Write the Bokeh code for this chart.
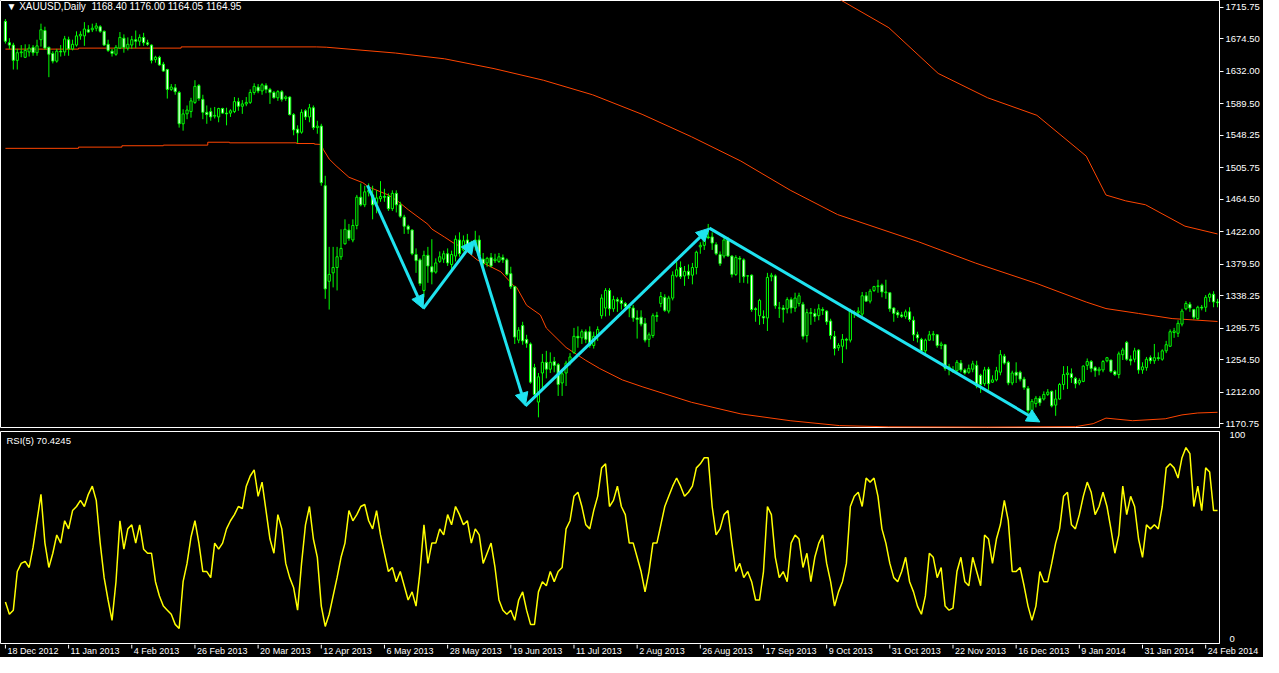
from bokeh.plotting import figure
from bokeh.models import (ColumnDataSource, FixedTicker, NumeralTickFormatter, Arrow,
                          NormalHead, Label, Range1d)
from bokeh.layouts import column
from bokeh.core.properties import value
from bokeh.embed import file_html
from bokeh.resources import INLINE

# ---------------- data ----------------
opens = [1697,1669,1666,1646,1656,1650,1657,1663,1656,1673,1685,1663,1655,1645,1658,1657,1673,1661,1666,1678,
         1678,1686,1686,1688,1690,1684,1667,1658,1654,1662,1675,1662,1666,1673,1671,1676,1669,1666,1647,1650,
         1641,1634,1608,1610,1604,1563,1576,1579,1591,1613,1595,1578,1579,1573,1572,1583,1577,1577,1579,1592,
         1586,1589,1591,1604,1611,1606,1613,1608,1604,1597,1605,1596,1598,1575,1556,1552,1580,1572,1584,1558,
         1560,1482,1357,1368,1375,1389,1406,1424,1411,1430,1467,1457,1474,1470,1459,1465,1468,1468,1452,1472,
         1457,1441,1429,1424,1392,1385,1345,1391,1376,1369,1383,1386,1393,1379,1390,1411,1398,1411,1400,1403,
         1411,1386,1381,1388,1384,1383,1388,1385,1367,1350,1280,1299,1281,1275,1244,1199,1237,1251,1242,1252,
         1248,1224,1237,1250,1264,1285,1283,1291,1291,1273,1285,1312,1322,1345,1321,1333,1332,1328,1323,1322,
         1309,1310,1302,1281,1286,1312,1328,1336,1318,1335,1364,1375,1364,1370,1365,1375,1402,1404,1415,1415,
         1405,1392,1390,1411,1390,1366,1387,1385,1364,1365,1321,1312,1311,1309,1363,1364,1322,1322,1321,1333,
         1322,1328,1327,1286,1316,1315,1312,1320,1318,1305,1285,1270,1272,1281,1280,1316,1316,1314,1338,1331,
         1345,1350,1352,1342,1342,1322,1316,1313,1311,1317,1306,1287,1281,1266,1280,1287,1287,1273,1274,1243,
         1241,1240,1250,1241,1238,1242,1247,1234,1223,1242,1225,1228,1238,1259,1251,1224,1238,1238,1229,1217,
         1188,1197,1204,1203,1209,1213,1195,1203,1222,1235,1236,1230,1224,1226,1247,1252,1244,1240,1241,1253,
         1254,1239,1235,1261,1277,1255,1255,1267,1241,1244,1257,1253,1257,1255,1266,1272,1290,1289,1301,1321,
         1327,1320,1308,1323,1323,1336,1340,1330]
highs = [1700,1675,1669,1661,1666,1667,1667,1666,1673,1694,1690,1664,1658,1661,1666,1678,1677,1673,1684,1684,
         1696,1692,1694,1695,1692,1685,1673,1661,1666,1683,1680,1676,1678,1685,1680,1682,1673,1667,1652,1652,
         1644,1635,1615,1615,1606,1582,1587,1597,1620,1615,1601,1587,1584,1585,1584,1584,1584,1582,1598,1597,
         1594,1598,1608,1616,1615,1616,1616,1610,1606,1607,1607,1600,1599,1577,1561,1582,1582,1589,1587,1567,
         1563,1495,1402,1402,1402,1425,1438,1432,1438,1470,1485,1482,1485,1482,1476,1488,1478,1472,1476,1476,
         1461,1444,1431,1425,1400,1387,1397,1402,1412,1387,1396,1397,1400,1397,1417,1421,1417,1419,1410,1423,
         1417,1394,1389,1394,1393,1394,1392,1387,1376,1351,1297,1304,1287,1277,1249,1237,1262,1266,1264,1258,
         1250,1240,1253,1263,1296,1298,1294,1294,1298,1291,1298,1340,1348,1348,1338,1336,1336,1330,1327,1326,
         1319,1319,1309,1290,1315,1317,1343,1340,1338,1370,1383,1383,1377,1379,1381,1397,1408,1421,1432,1421,
         1408,1396,1415,1415,1391,1391,1390,1387,1365,1366,1323,1334,1319,1368,1368,1366,1330,1326,1336,1336,
         1342,1342,1330,1321,1322,1321,1327,1323,1319,1308,1292,1276,1288,1283,1321,1319,1323,1343,1343,1347,
         1351,1359,1354,1359,1342,1323,1319,1317,1320,1323,1311,1291,1283,1282,1292,1292,1288,1278,1275,1249,
         1246,1254,1254,1243,1248,1253,1253,1236,1245,1245,1234,1245,1267,1262,1253,1240,1251,1240,1232,1220,
         1203,1207,1207,1213,1216,1214,1215,1224,1246,1246,1243,1232,1230,1247,1256,1254,1246,1245,1254,1258,
         1254,1241,1265,1270,1279,1260,1270,1268,1251,1258,1260,1275,1264,1268,1279,1294,1296,1306,1321,1331,
         1330,1321,1325,1326,1339,1342,1344,1334]
lows = [1668,1661,1634,1634,1650,1649,1651,1652,1652,1664,1660,1624,1642,1643,1651,1652,1652,1659,1664,1673,
        1665,1682,1683,1684,1682,1665,1657,1651,1652,1661,1656,1659,1661,1662,1665,1665,1665,1642,1643,1639,
        1631,1596,1606,1601,1558,1554,1569,1571,1589,1593,1569,1563,1567,1570,1565,1576,1561,1572,1577,1580,
        1576,1586,1589,1601,1603,1601,1603,1589,1596,1593,1592,1593,1574,1548,1538,1550,1568,1565,1555,1550,
        1482,1334,1320,1349,1345,1385,1405,1410,1408,1425,1455,1454,1468,1438,1446,1461,1461,1449,1449,1447,
        1440,1419,1419,1391,1368,1351,1336,1355,1353,1367,1381,1381,1377,1372,1383,1389,1396,1398,1397,1397,
        1388,1376,1376,1375,1381,1381,1381,1364,1347,1275,1276,1274,1270,1223,1205,1179,1215,1230,1237,1238,
        1207,1207,1220,1247,1262,1270,1275,1276,1270,1269,1279,1308,1311,1312,1317,1317,1320,1320,1310,1304,
        1282,1298,1277,1271,1283,1304,1323,1317,1315,1332,1362,1360,1351,1360,1353,1366,1393,1398,1412,1398,
        1391,1377,1387,1389,1362,1364,1355,1355,1354,1317,1304,1300,1301,1292,1357,1321,1309,1303,1315,1315,
        1317,1324,1281,1277,1300,1304,1306,1313,1300,1281,1260,1266,1250,1268,1277,1309,1310,1311,1330,1328,
        1343,1342,1336,1334,1317,1304,1309,1309,1308,1304,1279,1277,1264,1262,1279,1279,1270,1268,1240,1234,
        1237,1238,1238,1235,1236,1238,1217,1211,1220,1215,1224,1226,1234,1248,1221,1221,1224,1226,1215,1184,
        1185,1192,1194,1201,1207,1192,1181,1202,1215,1216,1224,1217,1221,1225,1241,1238,1232,1234,1238,1251,
        1237,1233,1230,1254,1253,1247,1251,1236,1236,1240,1249,1249,1253,1253,1263,1271,1283,1284,1298,1319,
        1317,1307,1307,1319,1317,1330,1323,1323]
closes = [1671,1666,1646,1656,1657,1659,1662,1656,1665,1686,1662,1654,1645,1658,1657,1674,1661,1667,1678,1680,
          1687,1683,1688,1691,1684,1666,1659,1655,1663,1676,1663,1667,1673,1671,1676,1669,1667,1646,1650,1640,
          1632,1608,1611,1605,1563,1576,1581,1593,1612,1596,1578,1575,1572,1574,1583,1577,1576,1580,1592,1586,
          1589,1591,1604,1612,1606,1614,1608,1604,1597,1605,1595,1598,1575,1555,1551,1578,1572,1584,1558,1560,
          1486,1347,1366,1375,1389,1400,1425,1413,1430,1467,1457,1474,1476,1457,1466,1468,1467,1452,1472,1457,
          1442,1429,1425,1393,1384,1354,1391,1377,1369,1381,1389,1393,1381,1392,1412,1393,1410,1400,1402,1411,
          1390,1380,1387,1377,1386,1389,1385,1366,1350,1284,1293,1279,1276,1225,1209,1232,1251,1242,1251,1247,
          1222,1236,1250,1258,1285,1283,1291,1281,1273,1285,1294,1335,1345,1321,1333,1331,1328,1324,1322,1309,
          1307,1301,1280,1287,1312,1311,1337,1319,1335,1365,1372,1363,1370,1365,1375,1395,1404,1415,1414,1407,
          1393,1380,1411,1390,1366,1388,1386,1363,1364,1320,1320,1332,1309,1362,1365,1325,1322,1320,1333,1322,
          1335,1338,1285,1316,1315,1311,1321,1319,1304,1286,1269,1273,1281,1280,1318,1316,1318,1338,1331,1344,
          1350,1351,1343,1343,1321,1315,1313,1311,1317,1307,1287,1283,1266,1280,1287,1288,1273,1275,1243,1245,
          1239,1251,1241,1237,1243,1249,1220,1222,1241,1223,1228,1240,1261,1250,1224,1237,1234,1229,1218,1188,
          1200,1204,1198,1209,1212,1194,1203,1222,1235,1237,1231,1223,1227,1246,1252,1243,1240,1242,1252,1257,
          1239,1235,1262,1267,1255,1253,1266,1241,1245,1255,1253,1257,1256,1266,1274,1291,1292,1302,1318,1328,
          1322,1310,1323,1322,1336,1340,1330,1329]

rsi5 = [18,12,14,33,37,38,35,45,58,71, 47,35,42,51,47,58,54,63,65,68,
        65,71,75,68,47,30,19,9,28,58, 44,54,56,47,56,44,42,42,28,21,
        16,14,12,7,5,28,37,50,58,47, 33,33,30,47,44,47,54,58,61,65,
        64,75,80,83,70,77,63,49,42,61, 54,37,30,25,14,37,56,65,49,40,
        16,6,12,21,30,40,47,63,58,61, 65,66,58,54,63,51,42,33,35,28,
        33,26,19,23,16,33,56,37,47,47, 54,51,61,56,65,61,56,58,47,54,
        51,37,42,47,35,19,14,12,14,9, 19,23,14,7,7,23,28,26,33,28,
        33,35,54,58,70,72,65,56,54,63, 70,84,86,65,68,75,65,61,47,47,
        40,33,23,33,47,47,56,65,70,75, 79,75,70,72,75,84,86,89,89,65,
        51,54,61,63,47,33,37,30,33,28, 19,19,33,65,61,40,30,33,28,47,
        51,49,35,42,28,40,47,51,37,28, 16,23,28,37,65,70,72,65,79,77,
        79,70,54,47,37,30,28,33,40,28, 23,16,12,21,42,40,30,35,16,14,
        15,33,40,28,26,40,33,26,51,49, 37,49,56,68,58,33,33,35,26,16,
        9,16,33,28,28,37,47,54,70,72, 56,54,61,70,77,72,61,65,72,65,
        54,42,51,75,61,70,65,49,40,56, 54,56,54,65,84,86,84,79,89,94,
        91,65,75,63,84,82,63,63]

# red indicator lines: (bar index, price) vertices
lineA_x = [0, 18.5, 18.5, 44.5, 44.5, 78.75, 81.25, 98.75, 111.25, 123.75, 136.25, 148.75, 161.25,
           173.75, 186.25, 198.75, 210.75, 231.25, 245.75, 261.25, 273.75, 278.75, 287, 295.5, 307]
lineA_y = [1660.7, 1660.7, 1662.0, 1662.0, 1663.6, 1663.6, 1663.2, 1655.6, 1648.0, 1635.2, 1620.0, 1600.9,
           1575.4, 1546.1, 1514.3, 1476.2, 1444.3, 1408.7, 1380.7, 1354.0, 1329.8, 1321.3, 1314.9, 1308.2, 1304.4]
lineB_x = [0, 18.5, 18.5, 29.5, 29.5, 40, 40, 51.25, 51.25, 56.75, 56.75, 73.75, 73.75, 78.25, 78.25, 80,
           80.5, 82, 83.75, 87, 90.5, 92, 97, 99.5, 102, 107, 108, 111.25, 113.75, 115.5, 119.5, 125.5,
           128.75, 129.5, 132, 135.5, 137, 142, 147, 150.5, 156.25, 161.25, 173.75, 186.25, 198.75,
           211.25, 223.75, 248.75, 271, 275.5, 278.75, 285.5, 293.75, 298, 302, 307]
lineB_y = [1530.9, 1530.9, 1532.5, 1532.5, 1534.3, 1534.3, 1535.1, 1535.1, 1538.9, 1538.9, 1538.1, 1538.1,
           1537.2, 1537.2, 1536.4, 1536.0, 1529.6, 1516.9, 1508.0, 1493.1, 1486.0, 1480.4, 1469.8, 1461.3,
           1450.7, 1431.6, 1425.3, 1414.7, 1406.2, 1402.0, 1384.9, 1369.3, 1351.1, 1348.9, 1325.6, 1312.9,
           1295.8, 1270.4, 1253.5, 1242.9, 1228.0, 1219.1, 1198.7, 1183.5, 1174.6, 1168.2, 1166.6, 1166.2,
           1166.8, 1170.7, 1178.0, 1174.6, 1177.1, 1182.2, 1184.7, 1185.6]
lineC_x = [207.5, 223.75, 236.25, 248.75, 261.25, 273.75, 278.75, 283.75, 288.75, 298.75, 307]
lineC_y = [1737.0, 1688.7, 1628.9, 1597.1, 1574.1, 1520.7, 1469.8, 1462.2, 1457.1, 1429.1, 1418.9]

# cyan zig-zag arrows
arrow_x = [91.7, 105.8, 118.75, 131.7, 178.3, 262.0]
arrow_y = [1482.5, 1321.3, 1410.4, 1194.0, 1426.5, 1173.0]

price_ticks = [1715.75, 1674.50, 1632.00, 1589.50, 1548.25, 1505.75, 1464.50, 1422.00, 1379.50,
               1338.25, 1295.75, 1254.50, 1212.00, 1170.75]
date_ticks = [0, 16, 32, 48, 64, 80, 96, 112, 128, 144, 160, 176, 192, 208, 224, 240, 256, 272, 288, 304]
date_labels = ["18 Dec 2012", "11 Jan 2013", "4 Feb 2013", "26 Feb 2013", "20 Mar 2013", "12 Apr 2013",
               "6 May 2013", "28 May 2013", "19 Jun 2013", "11 Jul 2013", "2 Aug 2013", "26 Aug 2013",
               "17 Sep 2013", "9 Oct 2013", "31 Oct 2013", "22 Nov 2013", "16 Dec 2013", "9 Jan 2014",
               "31 Jan 2014", "24 Feb 2014"]

header_text = "\u25BC XAUUSD,Daily\u00A0\u00A01168.40 1176.00 1164.05 1164.95"
rsi_text = "RSI(5) 70.4245"

# ---------------- styling ----------------
FONT = "Liberation Sans"
LIME = "#00ff00"
RED = "#ff4500"
CYAN = "#1fe3f0"
FW = 1219            # frame width of the two panes
TOTAL_W = 1263
X0, X1 = -1.25, 307.5
PX_PER_BAR = FW / (X1 - X0)

bars = list(range(len(closes)))
tops = [max(o, c) for o, c in zip(opens, closes)]
bots = [min(o, c) for o, c in zip(opens, closes)]
fills = ["#ffffff" if c < o else "#000000" for o, c in zip(opens, closes)]
src = ColumnDataSource(dict(x=bars, o=opens, h=highs, l=lows, c=closes, top=tops, bottom=bots, fill=fills))

xr = Range1d(X0, X1)

p = figure(frame_width=FW, frame_height=428, x_range=xr, y_range=Range1d(1164.4, 1724.3),
           output_backend="svg", toolbar_location=None, x_axis_location=None, y_axis_location="right",
           background_fill_color="black", border_fill_color="black", outline_line_color="white",
           min_border_left=0, min_border_top=0, min_border_bottom=0, min_border_right=TOTAL_W - FW)
p.grid.visible = False
ya = p.yaxis[0]
ya.ticker = FixedTicker(ticks=price_ticks)
ya.formatter = NumeralTickFormatter(format="0.00")
ya.axis_line_color = "white"
ya.major_tick_line_color = "white"
ya.major_tick_out = 4
ya.major_tick_in = 0
ya.minor_tick_line_color = None
ya.major_label_text_color = "white"
ya.major_label_text_font = FONT
ya.major_label_text_font_size = "9.5px"
ya.major_label_standoff = 2

p.line(lineA_x, lineA_y, line_color=RED, line_width=1)
p.line(lineB_x, lineB_y, line_color=RED, line_width=1)
p.line(lineC_x, lineC_y, line_color=RED, line_width=1)

p.segment(x0="x", y0="l", x1="x", y1="h", source=src, line_color=LIME, line_width=1)
p.vbar(x="x", width=0.55, top="top", bottom="bottom", source=src,
       fill_color="fill", line_color=LIME, line_width=1)

for k in range(len(arrow_x) - 1):
    p.add_layout(Arrow(end=NormalHead(size=13, fill_color=CYAN, line_color=CYAN),
                       x_start=arrow_x[k], y_start=arrow_y[k], x_end=arrow_x[k + 1], y_end=arrow_y[k + 1],
                       line_color=CYAN, line_width=3))

p.add_layout(Label(x=6, x_units="screen", y=428, y_units="screen", text=header_text,
                   text_color="white", text_font=FONT, text_font_size="10px", text_baseline="top"))

# ---------------- RSI pane ----------------
r = figure(frame_width=FW, frame_height=212, x_range=xr, y_range=Range1d(-2.4, 101.9),
           output_backend="svg", toolbar_location=None, x_axis_location=None, y_axis_location="right",
           background_fill_color="black", border_fill_color="black", outline_line_color="white",
           min_border_left=0, min_border_top=3, min_border_bottom=1, min_border_right=TOTAL_W - FW)
r.grid.visible = False
ry = r.yaxis[0]
ry.ticker = FixedTicker(ticks=[0, 100])
ry.axis_line_color = "white"
ry.major_tick_line_color = None
ry.minor_tick_line_color = None
ry.major_label_text_color = "white"
ry.major_label_text_font = FONT
ry.major_label_text_font_size = "9.5px"
ry.major_label_standoff = 4

r.line(bars, rsi5, line_color="#ffff00", line_width=1.5)

r.add_layout(Label(x=6, x_units="screen", y=209, y_units="screen", text=rsi_text,
                   text_color="white", text_font=FONT, text_font_size="9.5px", text_baseline="top"))

# ---------------- date strip (ticks + left-aligned labels) ----------------
d = figure(frame_width=TOTAL_W, frame_height=13, x_range=Range1d(X0, X0 + TOTAL_W / PX_PER_BAR),
           y_range=Range1d(0, 13), output_backend="svg", toolbar_location=None,
           x_axis_location=None, y_axis_location=None,
           background_fill_color="black", border_fill_color="black", outline_line_color=None,
           min_border_left=0, min_border_top=0, min_border_bottom=0, min_border_right=0)
d.grid.visible = False
d.segment(x0=date_ticks, y0=[13] * len(date_ticks), x1=date_ticks, y1=[9] * len(date_ticks),
          line_color="white", line_width=1)
d.text(x=date_ticks, y=[12] * len(date_ticks), text=date_labels, x_offset=2,
       text_align="left", text_baseline="top", text_color="white",
       text_font=value(FONT), text_font_size=value("9px"))

layout = column(p, r, d, spacing=0)
layout.background = "black"
open("out.html", "w").write(file_html(layout, INLINE))
